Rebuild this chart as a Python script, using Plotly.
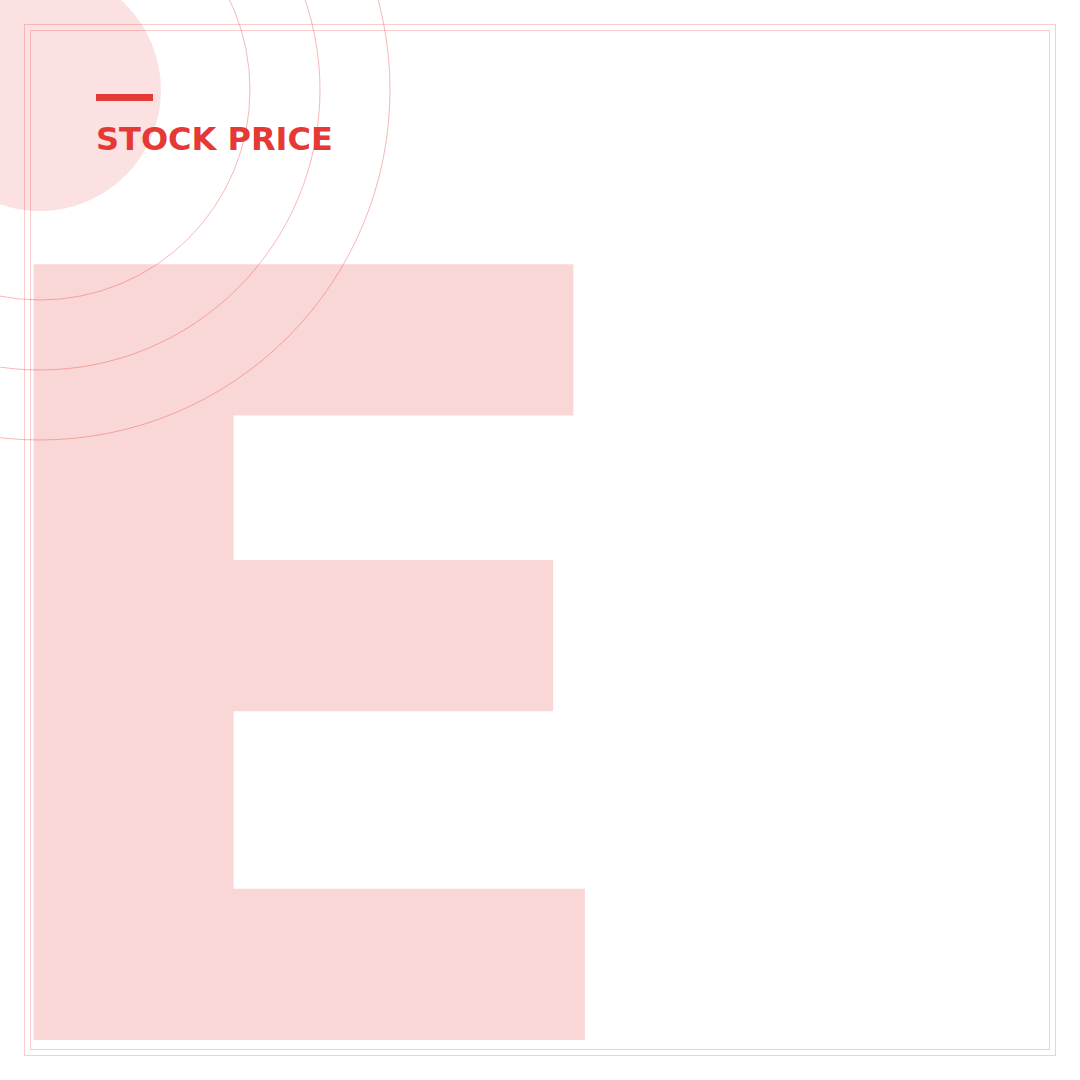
import plotly.graph_objects as go

# content
title_text = "STOCK PRICE"
big_letter = ["E"]

# decorative rings around the top-left corner (radius in px)
ring_radii = [210, 280, 350]
disc_radius = 121

RED = "#e53935"
W = H = 1080
CX, CY = 40, 90

fig = go.Figure()

# giant background letter (anchor sits below the frame, text clipped to the plot area)
fig.add_trace(go.Scatter(
    x=[-64],
    y=[1306],
    mode="text",
    text=big_letter,
    textposition="top right",
    textfont=dict(family="DejaVu Sans", size=1064, color="rgba(229,57,53,0.2)", weight="bold"),
    hoverinfo="skip",
    showlegend=False,
))

shapes = []
# soft filled disc behind the title
shapes.append(dict(
    type="circle", layer="below",
    x0=CX - disc_radius, x1=CX + disc_radius,
    y0=CY - disc_radius, y1=CY + disc_radius,
    fillcolor="rgba(229,57,53,0.15)", line=dict(width=0),
))
# thin rings
for r in ring_radii:
    shapes.append(dict(
        type="circle", layer="above",
        x0=CX - r, x1=CX + r, y0=CY - r, y1=CY + r,
        line=dict(color="rgba(229,57,53,0.6)", width=0.6),
    ))
# double frame
shapes.append(dict(type="rect", layer="above", x0=24.5, x1=1055.5, y0=24.5, y1=1055.5,
                   line=dict(color="rgba(229,57,53,0.25)", width=1)))
shapes.append(dict(type="rect", layer="above", x0=30.5, x1=1049.5, y0=30.5, y1=1049.5,
                   line=dict(color="rgba(229,57,53,0.25)", width=1)))
# accent bar above the title
shapes.append(dict(type="rect", layer="above", x0=96, x1=153, y0=94, y1=101,
                   fillcolor=RED, line=dict(width=0)))

fig.update_layout(
    width=W,
    height=H,
    margin=dict(l=0, r=0, t=0, b=0),
    paper_bgcolor="white",
    plot_bgcolor="white",
    shapes=shapes,
    xaxis=dict(range=[0, W], visible=False, fixedrange=True),
    yaxis=dict(range=[H, 0], visible=False, fixedrange=True),
    annotations=[dict(
        text="<b>%s</b>" % title_text,
        x=94, y=139, xref="x", yref="y",
        xanchor="left", yanchor="middle",
        showarrow=False,
        font=dict(family="DejaVu Sans", size=32, color=RED),
    )],
)

fig.write_html("out.html", config={"displayModeBar": False},
               post_script="document.body.style.margin='0';")
